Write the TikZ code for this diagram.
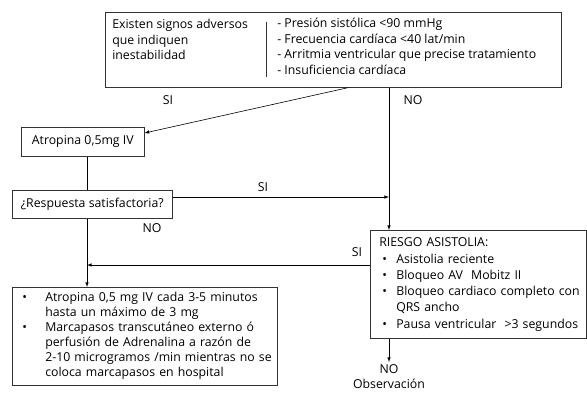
\documentclass[tikz,border=0pt]{standalone}
\usepackage{fontspec}
\setmainfont{Open Sans}
\tikzset{
  caja/.style={draw=black!80, rectangle, inner sep=0pt, anchor=north west},
  texto/.style={inner sep=0pt, anchor=north west, align=left},
  etiq/.style={inner sep=0pt},
}
\begin{document}
\begin{tikzpicture}[x=1pt, y=-1pt, >=latex, line width=0.6pt, font=\fontsize{12.3}{15.5}\selectfont]
  \useasboundingbox (0,0) rectangle (587,392);
  \coordinate (ejeizq) at (87,0);
  \coordinate (ejeder) at (389,0);
  % Signos adversos
  \node[caja, minimum width=456pt, minimum height=75pt] (signos) at (105,12) {};
  \node[texto] (adversos) at (112,19) {Existen signos adversos\\que indiquen\\inestabilidad};
  \node[texto] (lista) at (277,18) {- Presión sistólica <90 mmHg\\- Frecuencia cardíaca <40 lat/min\\- Arritmia ventricular que precise tratamiento\\- Insuficiencia cardíaca};
  \draw[black!80] (266,22) -- (266,77);
  % Cajas
  \node[caja, minimum width=123pt, minimum height=29pt] (atropina) at (21,127) {Atropina 0,5mg IV};
  \node[caja, minimum width=160pt, minimum height=28pt] (respuesta) at (12,190) {¿Respuesta satisfactoria?};
  \node[caja, text width=198pt, inner xsep=9pt, minimum height=108pt, align=left] (riesgo) at (370,230) {%
    \renewcommand{\arraystretch}{1.05}%
    \begin{tabular}{@{\hspace{3pt}}p{14pt}@{}l@{}}
      \multicolumn{2}{@{}l}{RIESGO ASISTOLIA:}\\
      \textbullet & Asistolia reciente\\
      \textbullet & Bloqueo AV\ \ Mobitz II\\
      \textbullet & Bloqueo cardiaco completo con\\
                  & QRS ancho\\
      \textbullet & Pausa ventricular\ \ >3 segundos
    \end{tabular}};
  \node[caja, text width=245pt, inner xsep=10pt, minimum height=98pt, align=left] (tratamiento) at (12,287) {%
    \renewcommand{\arraystretch}{0.97}%
    \begin{tabular}{@{}p{23pt}@{}l@{}}
      \textbullet & Atropina 0,5 mg IV cada 3-5 minutos\\
                  & hasta un máximo de 3 mg\\
      \textbullet & Marcapasos transcutáneo externo ó\\
                  & perfusión de Adrenalina a razón de\\
                  & 2-10 microgramos /min mientras no se\\
                  & coloca marcapasos en hospital
    \end{tabular}};
  \node[etiq, align=center, anchor=north] (observacion) at (389,364) {NO\\Observación};
  % Conectores
  \draw[->] ([xshift=15pt]signos.south) -- ([yshift=-6pt]atropina.north east);
  \draw[->] (signos.south -| ejeder) -- (riesgo.north -| ejeder);
  \draw (atropina.south -| ejeizq) -- (respuesta.north -| ejeizq);
  \draw[->] ([yshift=-7pt]respuesta.north east) coordinate (si1) -- (si1 -| ejeder);
  \draw[->] (respuesta.south -| ejeizq) -- (tratamiento.north -| ejeizq);
  \draw[->] ([yshift=-35pt]riesgo.north west) coordinate (si2) -- (si2 -| ejeizq);
  \draw[->, shorten >=2pt] (riesgo.south -| ejeder) -- (observacion.north);
  % Etiquetas
  \node[etiq] (si-a) at (168,100) {SI};
  \node[etiq] (no-a) at (413,100) {NO};
  \node[etiq] (si-b) at (263,187) {SI};
  \node[etiq] (no-b) at (152,228) {NO};
  \node[etiq] (si-c) at (357,252) {SI};
\end{tikzpicture}
\end{document}
